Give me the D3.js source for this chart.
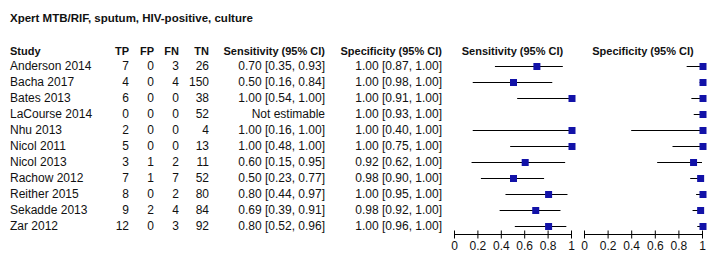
<!DOCTYPE html>
<html><head><meta charset="utf-8">
<script src="https://cdn.jsdelivr.net/npm/d3@7"></script>
<style>
html,body{margin:0;padding:0;background:#fff;}
svg{display:block;font-family:"Liberation Sans",Arial,sans-serif;}
</style></head>
<body><svg id="c" width="713" height="260"></svg>
<script>
const title = "Xpert MTB/RIF, sputum, HIV-positive, culture";
const studies = ["Anderson 2014","Bacha 2017","Bates 2013","LaCourse 2014","Nhu 2013","Nicol 2011","Nicol 2013","Rachow 2012","Reither 2015","Sekadde 2013","Zar 2012"];
const TP = [7,4,6,0,2,5,3,7,8,9,12];
const FP = [0,0,0,0,0,0,1,1,0,2,0];
const FN = [3,4,0,0,0,0,2,7,2,4,3];
const TN = [26,150,38,52,4,13,11,52,80,84,92];
const sens   = [0.70,0.50,1.00,null,1.00,1.00,0.60,0.50,0.80,0.69,0.80];
const sensLo = [0.35,0.16,0.54,null,0.16,0.48,0.15,0.23,0.44,0.39,0.52];
const sensHi = [0.93,0.84,1.00,null,1.00,1.00,0.95,0.77,0.97,0.91,0.96];
const spec   = [1.00,1.00,1.00,1.00,1.00,1.00,0.92,0.98,1.00,0.98,1.00];
const specLo = [0.87,0.98,0.91,0.93,0.40,0.75,0.62,0.90,0.95,0.92,0.96];
const specHi = [1.00,1.00,1.00,1.00,1.00,1.00,1.00,1.00,1.00,1.00,1.00];
const ticks = [0,0.2,0.4,0.6,0.8,1];
const tickLabels = ["0","0.2","0.4","0.6","0.8","1"];

const svg = d3.select("#c");
const ink = "#111";
const blue = "#1212a8";
const rowY = d3.scalePoint().domain(d3.range(studies.length)).range([66,226]);
const headY = 51;

svg.append("text").attr("x",10).attr("y",18).attr("dy","0.35em")
  .attr("font-size","11.5px").attr("font-weight","bold").attr("fill",ink).text(title);

const fmt = d3.format(".2f");
const ciText = (v,l,h) => v==null ? "Not estimable" : `${fmt(v)} [${fmt(l)}, ${fmt(h)}]`;

const cols = [
  {h:"Study", x:10, anchor:"start", vals:studies},
  {h:"TP", x:129, anchor:"end", vals:TP},
  {h:"FP", x:154, anchor:"end", vals:FP},
  {h:"FN", x:179, anchor:"end", vals:FN},
  {h:"TN", x:209, anchor:"end", vals:TN},
  {h:"Sensitivity (95% CI)", x:325, anchor:"end", vals:sens.map((v,i)=>ciText(v,sensLo[i],sensHi[i]))},
  {h:"Specificity (95% CI)", x:442, anchor:"end", vals:spec.map((v,i)=>ciText(v,specLo[i],specHi[i]))}
];
cols.forEach(c=>{
  svg.append("text").attr("x",c.x).attr("y",headY).attr("dy","0.35em")
    .attr("text-anchor",c.anchor).attr("font-size","11px").attr("font-weight","bold")
    .attr("fill",ink).text(c.h);
  svg.append("g").selectAll("text").data(c.vals).join("text")
    .attr("x",c.x).attr("y",(d,i)=>rowY(i)).attr("dy","0.35em")
    .attr("text-anchor",c.anchor).attr("font-size","12px").attr("fill",ink).text(d=>d);
});

const axisY = 234;
const panels = [
  {h:"Sensitivity (95% CI)", range:[454,571], v:sens, lo:sensLo, hi:sensHi},
  {h:"Specificity (95% CI)", range:[584,702], v:spec, lo:specLo, hi:specHi}
];
panels.forEach(p=>{
  const x = d3.scaleLinear().domain([0,1]).range(p.range);
  const g = svg.append("g");
  g.append("text").attr("x",(p.range[0]+p.range[1])/2).attr("y",headY).attr("dy","0.35em")
    .attr("text-anchor","middle").attr("font-size","11px").attr("font-weight","bold")
    .attr("fill",ink).text(p.h);
  const idx = d3.range(studies.length).filter(i=>p.v[i]!=null);
  g.selectAll("line.ci").data(idx).join("line").attr("class","ci")
    .attr("x1",i=>x(p.lo[i])).attr("x2",i=>x(p.hi[i]))
    .attr("y1",i=>rowY(i)+0.5).attr("y2",i=>rowY(i)+0.5)
    .attr("stroke","#000").attr("stroke-width",1);
  const s = 7;
  g.selectAll("rect").data(idx).join("rect")
    .attr("x",i=>x(p.v[i])-s/2+1).attr("y",i=>rowY(i)-s/2+0.5)
    .attr("width",s).attr("height",s).attr("fill",blue);
  const ax = d3.axisBottom(x).tickValues(ticks).tickFormat((d,i)=>tickLabels[i])
    .tickSizeInner(3).tickSizeOuter(0);
  const ag = g.append("g").attr("transform",`translate(0,${axisY}.5)`).call(ax);
  ag.select(".domain").attr("stroke","#000").attr("d",`M${p.range[0]},0H${p.range[1]}`);
  ag.selectAll(".tick line").attr("y1",-4).attr("y2",4).attr("stroke","#000");
  ag.selectAll(".tick text").attr("y",7).attr("font-size","12px")
    .attr("font-family","Liberation Sans, Arial, sans-serif").attr("fill",ink);
});
</script></body></html>
